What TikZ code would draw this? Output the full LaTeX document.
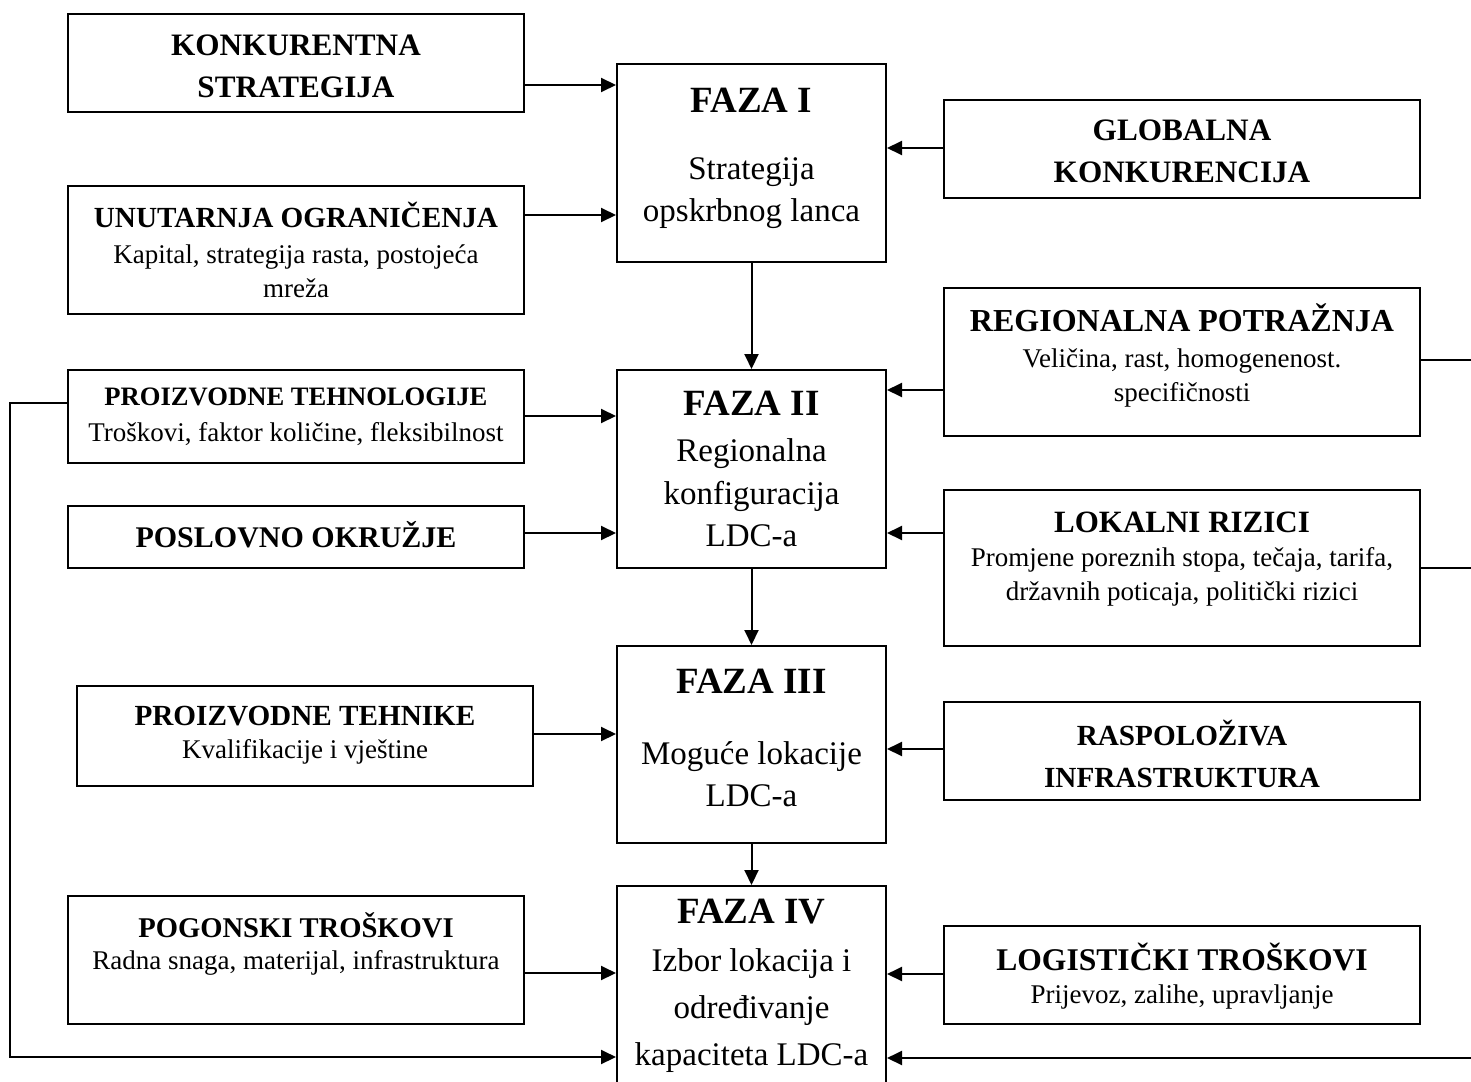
\documentclass[tikz,border=0pt]{standalone}
\usepackage{fontspec}
\setmainfont{Liberation Serif}
\usetikzlibrary{arrows.meta}
\begin{document}
\begin{tikzpicture}[x=0.5pt,y=-0.5pt,
  box/.style={draw, line width=1pt, inner sep=0pt},
  leftbox/.style={box, minimum width=228pt},
  fazabox/.style={box, minimum width=134.5pt},
  rightbox/.style={box, minimum width=238pt},
  txt/.style={align=center, inner sep=0pt},
  arr/.style={line width=1pt, -{Triangle[length=7.5pt,width=7pt]}},
  ln/.style={line width=1pt},
  fazatitle/.style={txt, font=\fontsize{18.5pt}{22pt}\bfseries\selectfont},
  fazabody/.style={txt, font=\fontsize{16.5pt}{21.2pt}\selectfont},
  subtxt/.style={txt, font=\fontsize{13.5pt}{17pt}\selectfont},
]
\useasboundingbox (0,0) rectangle (1471,1081);

% ---------- FAZA boxes ----------
\node[fazabox, minimum height=99pt] (f1) at (751.5,163) {};
\node[fazabox, minimum height=99pt] (f2) at (751.5,469) {};
\node[fazabox, minimum height=98.5pt] (f3) at (751.5,744.5) {};
\node[fazabox, minimum height=107pt] (f4) at (751.5,993) {};

\node[fazatitle] (f1t) at (751.5,100) {FAZA I};
\node[fazabody] (f1b) at (751.5,193) {Strategija\\opskrbnog lanca};
\node[fazatitle] (f2t) at (751.5,403) {FAZA II};
\node[fazabody] (f2b) at (751.5,493) {Regionalna\\konfiguracija\\LDC-a};
\node[fazatitle] (f3t) at (751.5,681) {FAZA III};
\node[fazabody] (f3b) at (751.5,774) {Moguće lokacije\\LDC-a};
\node[fazatitle] (f4t) at (751.5,912) {FAZA IV};
\node[fazabody, font=\fontsize{16.5pt}{23.5pt}\selectfont] (f4b) at (751.5,1011) {Izbor lokacija i\\određivanje\\kapaciteta LDC-a};

% ---------- left boxes ----------
\node[leftbox, minimum height=49pt] (konk) at (296,63) {};
\node[txt, font=\fontsize{15.6pt}{21pt}\bfseries\selectfont] (konkt) at (296,66) {KONKURENTNA\\STRATEGIJA};

\node[leftbox, minimum height=64pt] (unut) at (296,250) {};
\node[txt, font=\fontsize{14.6pt}{17pt}\bfseries\selectfont] (unutt) at (296,215) {UNUTARNJA OGRANIČENJA};
\node[subtxt] (unuts) at (296,271) {Kapital, strategija rasta, postojeća\\mreža};

\node[leftbox, minimum height=46.5pt] (ptech) at (296,416.5) {};
\node[txt, font=\fontsize{13.3pt}{17pt}\bfseries\selectfont] (ptecht) at (296,397) {PROIZVODNE TEHNOLOGIJE};
\node[subtxt] (ptechs) at (296,434) {Troškovi, faktor količine, fleksibilnost};

\node[leftbox, minimum height=31pt] (posl) at (296,537) {};
\node[txt, font=\fontsize{15pt}{17pt}\bfseries\selectfont] (poslt) at (296,535) {POSLOVNO OKRUŽJE};

\node[leftbox, minimum height=50pt] (ptehn) at (305,736) {};
\node[txt, font=\fontsize{14.6pt}{17pt}\bfseries\selectfont] (ptehnt) at (305,716) {PROIZVODNE TEHNIKE};
\node[subtxt] (ptehns) at (305,752) {Kvalifikacije i vještine};

\node[leftbox, minimum height=64pt] (pogon) at (296,960) {};
\node[txt, font=\fontsize{14.3pt}{17pt}\bfseries\selectfont] (pogont) at (296,925) {POGONSKI TROŠKOVI};
\node[subtxt] (pogons) at (296,963) {Radna snaga, materijal, infrastruktura};

% ---------- right boxes ----------
\node[rightbox, minimum height=49pt] (glob) at (1182,149) {};
\node[txt, font=\fontsize{15.6pt}{21pt}\bfseries\selectfont] (globt) at (1182,151) {GLOBALNA\\KONKURENCIJA};

\node[rightbox, minimum height=74pt] (reg) at (1182,362) {};
\node[txt, font=\fontsize{16pt}{17pt}\bfseries\selectfont] (regt) at (1182,318) {REGIONALNA POTRAŽNJA};
\node[subtxt] (regs) at (1182,378) {Veličina, rast, homogenenost.\\specifičnosti};

\node[rightbox, minimum height=78pt] (lok) at (1182,568) {};
\node[txt, font=\fontsize{15.5pt}{17pt}\bfseries\selectfont] (lokt) at (1182,522) {LOKALNI RIZICI};
\node[subtxt] (loks) at (1182,577) {Promjene poreznih stopa, tečaja, tarifa,\\državnih poticaja, politički rizici};

\node[rightbox, minimum height=49pt] (rasp) at (1182,751) {};
\node[txt, font=\fontsize{14.6pt}{21pt}\bfseries\selectfont] (raspt) at (1182,754) {RASPOLOŽIVA\\INFRASTRUKTURA};

\node[rightbox, minimum height=49pt] (logi) at (1182,975) {};
\node[txt, font=\fontsize{15.8pt}{17pt}\bfseries\selectfont] (logit) at (1182,957) {LOGISTIČKI TROŠKOVI};
\node[subtxt] (logis) at (1182,997) {Prijevoz, zalihe, upravljanje};

% ---------- y levels / free ends ----------
\coordinate (y85) at (0,85);
\coordinate (y215) at (0,215);
\coordinate (y416) at (0,416);
\coordinate (y533) at (0,533);
\coordinate (y734) at (0,734);
\coordinate (y973) at (0,973);
\coordinate (y148) at (0,148);
\coordinate (y390) at (0,390);
\coordinate (y749) at (0,749);
\coordinate (y974) at (0,974);
\coordinate (fbA) at (10,403);
\coordinate (fbB) at (10,1057);
\coordinate (edgeR1) at (1471,360);
\coordinate (edgeR2) at (1471,568);
\coordinate (edgeR3) at (1471,1058);

% ---------- vertical flow ----------
\draw[arr] (f1.south) -- (f2.north);
\draw[arr] (f2.south) -- (f3.north);
\draw[arr] (f3.south) -- (f4.north);

% ---------- left inputs ----------
\draw[arr] (konk.east |- y85) -- (f1.west |- y85);
\draw[arr] (unut.east |- y215) -- (f1.west |- y215);
\draw[arr] (ptech.east |- y416) -- (f2.west |- y416);
\draw[arr] (posl.east |- y533) -- (f2.west |- y533);
\draw[arr] (ptehn.east |- y734) -- (f3.west |- y734);
\draw[arr] (pogon.east |- y973) -- (f4.west |- y973);

% ---------- right inputs ----------
\draw[arr] (glob.west |- y148) -- (f1.east |- y148);
\draw[arr] (reg.west |- y390) -- (f2.east |- y390);
\draw[arr] (lok.west |- y533) -- (f2.east |- y533);
\draw[arr] (rasp.west |- y749) -- (f3.east |- y749);
\draw[arr] (logi.west |- y974) -- (f4.east |- y974);

% ---------- feedback lines ----------
\draw[arr] (ptech.west |- fbA) -- (fbA) -- (fbB) -- (f4.west |- fbB);
\draw[ln] (reg.east |- edgeR1) -- (edgeR1);
\draw[ln] (lok.east |- edgeR2) -- (edgeR2);
\draw[arr] (edgeR3) -- (f4.east |- edgeR3);
\end{tikzpicture}
\end{document}
